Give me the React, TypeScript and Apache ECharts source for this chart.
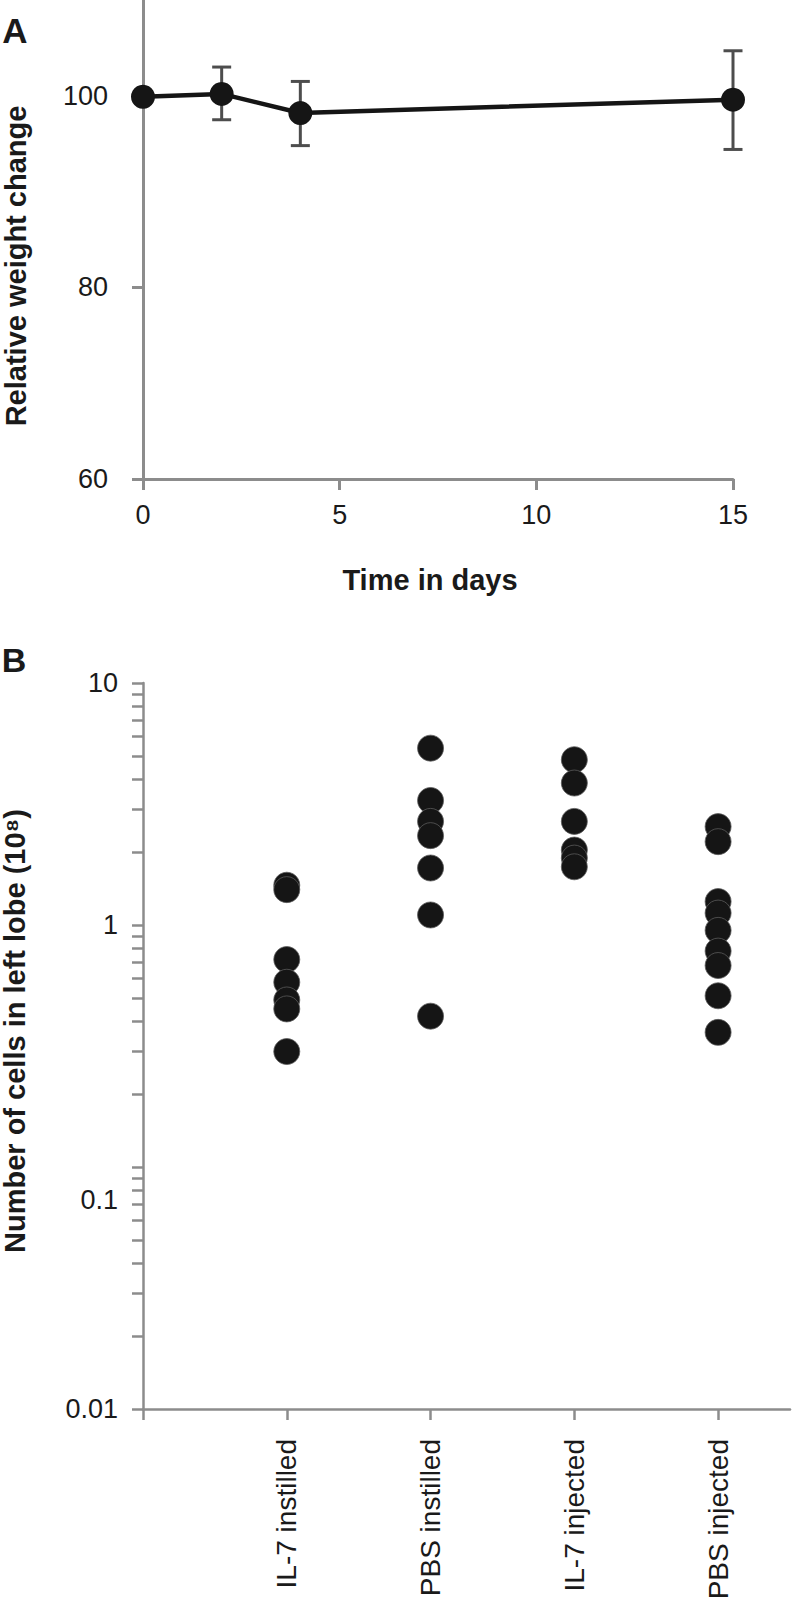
import React, { useEffect, useRef } from "react";
import * as echarts from "echarts";

// ---------- Panel A data ----------
const daysA = [0, 2, 4, 15];
const weightMean = [99.9, 100.2, 98.2, 99.6];
const weightLow = [null, 97.5, 94.8, 94.4];
const weightHigh = [null, 103.0, 101.5, 104.7];
const weightTicks = [60, 80, 100];

// ---------- Panel B data (x10^8 cells) ----------
const groups = ["IL-7 instilled", "PBS instilled", "IL-7 injected", "PBS injected"];
const il7Instilled = [1.46, 1.4, 0.72, 0.58, 0.49, 0.45, 0.3];
const pbsInstilled = [5.38, 3.27, 2.68, 2.34, 1.72, 1.1, 0.42];
const il7Injected = [4.82, 3.86, 2.68, 2.04, 1.89, 1.74];
const pbsInjected = [2.55, 2.21, 1.25, 1.12, 0.95, 0.78, 0.68, 0.51, 0.36];
const cellGroups = [il7Instilled, pbsInstilled, il7Injected, pbsInjected];
const logTickValues = [
  0.01, 0.02, 0.03, 0.04, 0.05, 0.06, 0.07, 0.08, 0.09,
  0.1, 0.2, 0.3, 0.4, 0.5, 0.6, 0.7, 0.8, 0.9,
  1, 2, 3, 4, 5, 6, 7, 8, 9, 10,
];
const logLabelValues = [0.01, 0.1, 1, 10];
const groupTickPositions = [0, 1, 2, 3, 4];

const FONT = "'Liberation Sans', Arial, Helvetica, sans-serif";
const AXIS_GRAY = "#8c8c8c";
const TEXT = "#1a1a1a";

export default function App() {
  const ref = useRef<HTMLDivElement>(null);

  useEffect(() => {
    if (!ref.current) return;
    const chart = echarts.init(ref.current, undefined, { renderer: "svg" });

    const lineData = daysA.map((d, i) => [d, weightMean[i]]);
    const errData = daysA
      .map((d, i) => [d, weightLow[i], weightHigh[i]])
      .filter((r) => r[1] != null && r[2] != null);

    const scatterData: number[][] = [];
    cellGroups.forEach((arr, gi) => {
      arr.forEach((v) => scatterData.push([gi + 1, Math.log10(v)]));
    });

    const fmtLog = (v: number) => {
      const idx = logLabelValues.findIndex((l) => Math.abs(Math.log10(l) - v) < 1e-6);
      if (idx < 0) return "";
      const s = String(logLabelValues[idx]);
      return logLabelValues[idx] === 0.1 ? "{shift|" + s + "}" : s;
    };

    const option: any = {
      animation: false,
      backgroundColor: "#ffffff",
      textStyle: { fontFamily: FONT },
      grid: [
        { left: 143, top: 0, width: 590, height: 479 },
        { left: 143, top: 683, width: 647, height: 726 },
      ],
      xAxis: [
        {
          gridIndex: 0,
          type: "value",
          min: 0,
          max: 15,
          interval: 5,
          axisLine: { show: true, onZero: false, lineStyle: { color: AXIS_GRAY, width: 3 } },
          axisTick: { show: true, length: 11, lineStyle: { color: AXIS_GRAY, width: 3 } },
          splitLine: { show: false },
          axisLabel: { margin: 22, fontSize: 27, color: TEXT, fontFamily: FONT },
        },
        {
          gridIndex: 1,
          type: "value",
          min: 0,
          max: 4.5,
          interval: 1,
          axisLine: { show: true, onZero: false, lineStyle: { color: AXIS_GRAY, width: 2.5 } },
          axisTick: {
            show: true,
            length: 11,
            customValues: groupTickPositions,
            lineStyle: { color: AXIS_GRAY, width: 2.5 },
          },
          splitLine: { show: false },
          axisLabel: {
            rotate: 90,
            margin: 30,
            fontSize: 28,
            color: TEXT,
            fontFamily: FONT,
            customValues: groupTickPositions.slice(1),
            formatter: (v: number) => groups[Math.round(v) - 1] ?? "",
          },
        },
      ],
      yAxis: [
        {
          gridIndex: 0,
          type: "value",
          min: 60,
          max: 110,
          axisLine: { show: true, lineStyle: { color: AXIS_GRAY, width: 3 } },
          axisTick: {
            show: true,
            length: 11,
            customValues: weightTicks,
            lineStyle: { color: AXIS_GRAY, width: 3 },
          },
          splitLine: { show: false },
          axisLabel: {
            margin: 35,
            fontSize: 27,
            color: TEXT,
            fontFamily: FONT,
            customValues: weightTicks,
          },
        },
        {
          gridIndex: 1,
          type: "value",
          min: -2,
          max: 1,
          interval: 1,
          axisLine: { show: true, lineStyle: { color: AXIS_GRAY, width: 2.5 } },
          axisTick: {
            show: true,
            length: 11,
            customValues: logTickValues.map((v) => Math.log10(v)),
            lineStyle: { color: AXIS_GRAY, width: 2.5 },
          },
          splitLine: { show: false },
          axisLabel: {
            margin: 25,
            fontSize: 27,
            color: TEXT,
            fontFamily: FONT,
            customValues: logLabelValues.map((v) => Math.log10(v)),
            formatter: fmtLog,
            rich: {
              shift: {
                fontSize: 27,
                color: TEXT,
                fontFamily: FONT,
                padding: [65, 0, 0, 0],
              },
            },
          },
        },
      ],
      series: [
        {
          type: "custom",
          xAxisIndex: 0,
          yAxisIndex: 0,
          data: errData,
          encode: { x: 0, y: [1, 2] },
          z: 2,
          renderItem: (params: any, api: any) => {
            const x = api.value(0);
            const lo = api.value(1);
            const hi = api.value(2);
            const pHi = api.coord([x, hi]);
            const pLo = api.coord([x, lo]);
            const cap = 9.5;
            const st = { stroke: "#4d4d4d", lineWidth: 3 };
            return {
              type: "group",
              children: [
                { type: "line", shape: { x1: pHi[0], y1: pHi[1], x2: pLo[0], y2: pLo[1] }, style: st },
                { type: "line", shape: { x1: pHi[0] - cap, y1: pHi[1], x2: pHi[0] + cap, y2: pHi[1] }, style: st },
                { type: "line", shape: { x1: pLo[0] - cap, y1: pLo[1], x2: pLo[0] + cap, y2: pLo[1] }, style: st },
              ],
            };
          },
        },
        {
          type: "line",
          xAxisIndex: 0,
          yAxisIndex: 0,
          data: lineData,
          z: 3,
          symbol: "circle",
          symbolSize: 24,
          lineStyle: { color: "#151515", width: 4.5 },
          itemStyle: { color: "#151515", opacity: 1 },
        },
        {
          type: "scatter",
          xAxisIndex: 1,
          yAxisIndex: 1,
          data: scatterData,
          symbol: "circle",
          symbolSize: 26,
          itemStyle: { color: "#151515", borderColor: "#5a5a5a", borderWidth: 0.8, opacity: 1 },
        },
      ],
      graphic: [
        {
          type: "text",
          x: 15,
          y: 30,
          style: { text: "A", font: `bold 35px ${FONT}`, fill: TEXT, align: "center", verticalAlign: "middle" },
        },
        {
          type: "text",
          x: 14,
          y: 660,
          style: { text: "B", font: `bold 34px ${FONT}`, fill: TEXT, align: "center", verticalAlign: "middle" },
        },
        {
          type: "text",
          x: 15.5,
          y: 266,
          rotation: Math.PI / 2,
          style: {
            text: "Relative weight change",
            font: `bold 29px ${FONT}`,
            fill: TEXT,
            align: "center",
            verticalAlign: "middle",
          },
        },
        {
          type: "text",
          x: 430,
          y: 580,
          style: { text: "Time in days", font: `bold 29px ${FONT}`, fill: TEXT, align: "center", verticalAlign: "middle" },
        },
        {
          type: "text",
          x: 15,
          y: 1031,
          rotation: Math.PI / 2,
          style: {
            text: "Number of cells in left lobe (10⁸)",
            font: `bold 29px ${FONT}`,
            fill: TEXT,
            align: "center",
            verticalAlign: "middle",
          },
        },
      ],
    };

    chart.setOption(option);
    return () => chart.dispose();
  }, []);

  return (
    <div
      ref={ref}
      style={{ position: "absolute", left: 0, top: 0, width: 792, height: 1605, background: "#fff" }}
    />
  );
}
